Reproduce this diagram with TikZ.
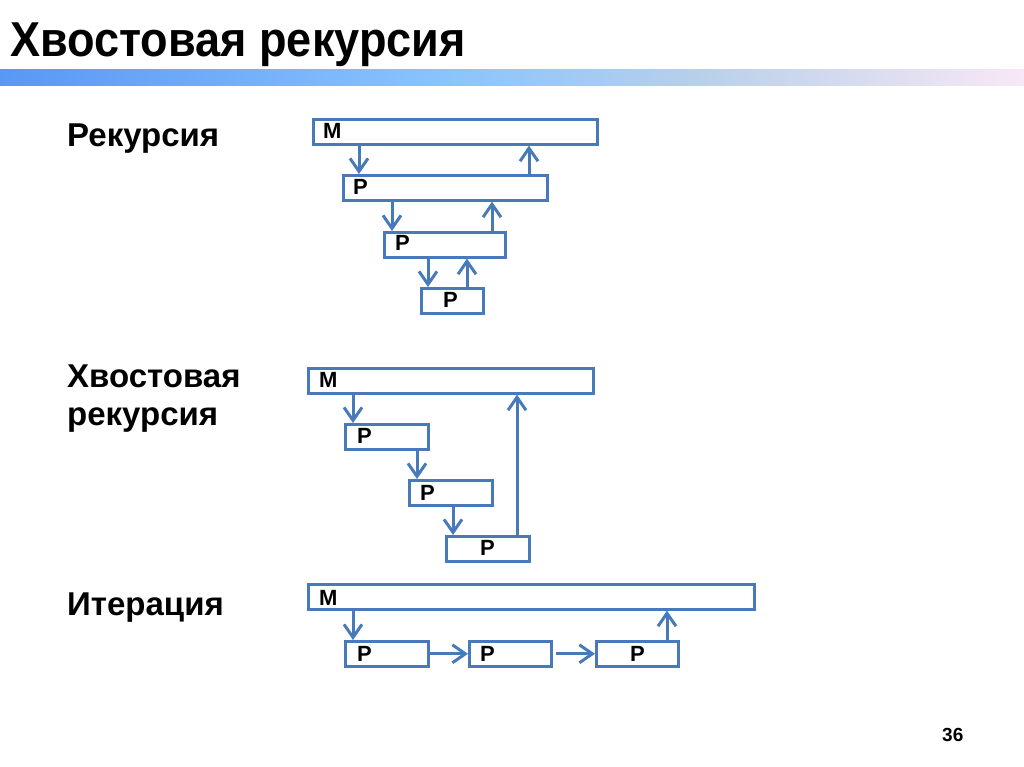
\documentclass[tikz,border=0pt]{standalone}
\usepackage{fontspec}
\setmainfont{Liberation Sans}
\usetikzlibrary{arrows.meta}
\definecolor{boxblue}{RGB}{72,122,185}
\definecolor{barA}{RGB}{88,152,245}
\definecolor{barB}{RGB}{134,194,255}
\definecolor{barC}{RGB}{184,208,234}
\definecolor{barD}{RGB}{248,232,246}
\tikzset{
  box/.style={draw=boxblue, line width=2.6pt, rectangle, inner sep=0pt, minimum height=25pt, anchor=north west},
  arr/.style={draw=boxblue, line width=3pt, -{Straight Barb[length=13pt,width=18pt,line width=3pt]}},
  lbl/.style={anchor=base west, inner sep=0pt, font=\fontsize{22}{22}\selectfont\bfseries},
  sec/.style={anchor=base west, inner sep=0pt, font=\fontsize{33}{38}\selectfont\bfseries, align=left},
}
\begin{document}
\begin{tikzpicture}[x=1pt,y=-1pt]
\useasboundingbox (0,0) rectangle (1024,767);
% title
\node[anchor=base west, inner sep=0pt, font=\fontsize{49}{49}\selectfont\bfseries, xscale=0.92] (title) at (10,57) {Хвостовая рекурсия};
\shade[left color=barA, right color=barB] (0,70) rectangle (420,86);
\shade[left color=barB, right color=barC] (420,70) rectangle (700,86);
\shade[left color=barC, right color=barD] (700,70) rectangle (1024,86);
% section labels
\node[sec] (s1) at (67,147) {Рекурсия};
\node[sec] (s2a) at (67,387) {Хвостовая};
\node[sec] (s2b) at (67,425) {рекурсия};
\node[sec] (s3) at (67,615) {Итерация};
% section 1
\node[box, minimum width=284pt] (m1) at (312,118) {};
\node[box, minimum width=204pt] (p11) at (342,174) {};
\node[box, minimum width=121pt] (p12) at (383,231) {};
\node[box, minimum width=62pt] (p13) at (420,287) {};
\node[lbl] (lm1) at (323,139) {M};
\node[lbl] (lp11) at (353,195) {P};
\node[lbl] (lp12) at (395,250) {P};
\node[lbl] (lp13) at (443,307) {P};
\draw[arr] (359,0 |- m1.south) -- (359,0 |- p11.north);
\draw[arr] (529,0 |- p11.north) -- (529,0 |- m1.south);
\draw[arr] (392,0 |- p11.south) -- (392,0 |- p12.north);
\draw[arr] (492,0 |- p12.north) -- (492,0 |- p11.south);
\draw[arr] (428,0 |- p12.south) -- (428,0 |- p13.north);
\draw[arr] (467,0 |- p13.north) -- (467,0 |- p12.south);
% section 2
\node[box, minimum width=285pt] (m2) at (307,367) {};
\node[box, minimum width=83pt] (p21) at (344,423) {};
\node[box, minimum width=83pt] (p22) at (408,479) {};
\node[box, minimum width=83pt] (p23) at (445,535) {};
\node[lbl] (lm2) at (319,387) {M};
\node[lbl] (lp21) at (357,443) {P};
\node[lbl] (lp22) at (420,500) {P};
\node[lbl] (lp23) at (480,555) {P};
\draw[arr] (353,0 |- m2.south) -- (353,0 |- p21.north);
\draw[arr] (417,0 |- p21.south) -- (417,0 |- p22.north);
\draw[arr] (453,0 |- p22.south) -- (453,0 |- p23.north);
\draw[arr] (517,0 |- p23.north) -- (517,0 |- m2.south);
% section 3
\node[box, minimum width=446pt] (m3) at (307,583) {};
\node[box, minimum width=83pt] (p31) at (344,640) {};
\node[box, minimum width=82pt] (p32) at (468,640) {};
\node[box, minimum width=82pt] (p33) at (595,640) {};
\node[lbl] (lm3) at (319,605) {M};
\node[lbl] (lp31) at (357,661) {P};
\node[lbl] (lp32) at (480,661) {P};
\node[lbl] (lp33) at (630,661) {P};
\draw[arr] (353,0 |- m3.south) -- (353,0 |- p31.north);
\draw[arr] (667,0 |- p33.north) -- (667,0 |- m3.south);
\draw[arr] (p31.east) -- (p32.west);
\draw[arr, shorten <=3pt] (p32.east) -- (p33.west);
% page number
\node[anchor=base west, inner sep=0pt, font=\fontsize{19}{19}\selectfont\bfseries] (pg) at (942,741) {36};
\end{tikzpicture}
\end{document}
